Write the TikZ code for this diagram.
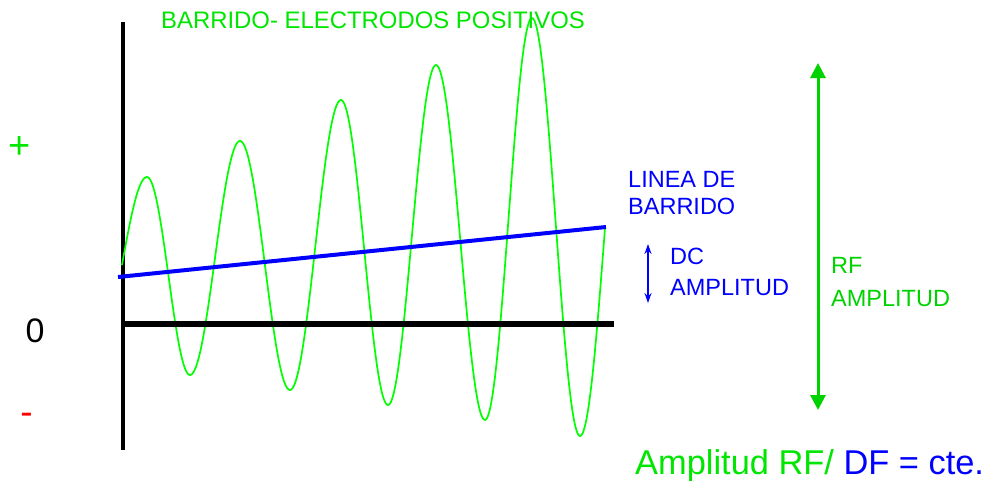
\documentclass[tikz,border=0pt]{standalone}
\usepackage{fontspec}
\setmainfont{Liberation Sans}
\usetikzlibrary{arrows.meta}
\definecolor{sinegreen}{RGB}{0,255,0}
\definecolor{txtgreen}{RGB}{0,230,0}
\definecolor{rfgreen}{RGB}{0,210,0}
\definecolor{myblue}{RGB}{0,0,255}
\definecolor{myred}{RGB}{255,0,0}
\newcommand\hwave[6]{\draw[sine] plot[domain=#5:#6,samples=40,variable=\t] ({#1+(#3-#1)*\t},{(#2+#4)/2+(#2-#4)/2*cos(180*\t)});}
\begin{document}
\begin{tikzpicture}[x=1pt,y=-1pt,
  sine/.style={draw=sinegreen,line width=1.7pt,line join=round,line cap=round},
  lbl/.style={inner sep=0pt,anchor=base west,font=\fontsize{23.5}{27}\selectfont},
  axisline/.style={draw=black,line width=4pt},
  zeroline/.style={draw=black,line width=6.5pt},
  sweep/.style={draw=myblue,line width=4pt},
  rfarrow/.style={draw=rfgreen,line width=3pt,{Triangle[length=15pt,width=15pt]}-{Triangle[length=15pt,width=15pt]}},
  dcarrow/.style={draw=myblue,line width=2pt,{Stealth[length=10pt,width=7pt]}-{Stealth[length=10pt,width=7pt]}}]
\useasboundingbox (0,0) rectangle (986,480);
% axes
\coordinate (ytop) at (123,22);
\coordinate (ybot) at (123,450);
\coordinate (z1) at (122,324);
\coordinate (z2) at (614,324);
\draw[axisline] (ytop) -- (ybot);
% sine wave
\hwave{98}{347}{147}{177}{0.49}{1}
\hwave{147}{177}{190}{375}{0}{1}
\hwave{190}{375}{240}{141}{0}{1}
\hwave{240}{141}{290}{390}{0}{1}
\hwave{290}{390}{341}{100}{0}{1}
\hwave{341}{100}{388}{405}{0}{1}
\hwave{388}{405}{436}{65}{0}{1}
\hwave{436}{65}{485}{420}{0}{1}
\hwave{485}{420}{532}{18}{0}{1}
\hwave{532}{18}{580}{436}{0}{1}
\hwave{580}{436}{630}{20}{0}{0.5}
\draw[zeroline] (z1) -- (z2);
% sweep line
\coordinate (b1) at (118,277);
\coordinate (b2) at (606,227);
\draw[sweep] (b1) -- (b2);
% arrows
\coordinate (dc1) at (648,244);
\coordinate (dc2) at (648,303);
\draw[dcarrow] (dc1) -- (dc2);
\coordinate (rf1) at (818,63);
\coordinate (rf2) at (818,410);
\draw[rfarrow] (rf1) -- (rf2);
% texts
\node[lbl,text=txtgreen,font=\fontsize{23.9}{27}\selectfont] (title) at (161,28) {BARRIDO- ELECTRODOS POSITIVOS};
\node[lbl,text=myblue] (lin1) at (628,187) {LINEA DE};
\node[lbl,text=myblue] (lin2) at (628,214) {BARRIDO};
\node[lbl,text=myblue] (dct1) at (670,264) {DC};
\node[lbl,text=myblue] (dct2) at (670,295) {AMPLITUD};
\node[lbl,text=rfgreen] (rft1) at (831,273) {RF};
\node[lbl,text=rfgreen] (rft2) at (831,306) {AMPLITUD};
\node[inner sep=0pt,anchor=base,font=\fontsize{38}{40}\selectfont,text=txtgreen] (plus) at (20,158) {+};
\node[inner sep=0pt,anchor=base,font=\fontsize{34}{36}\selectfont] (zero) at (35,342) {0};
\node[inner sep=0pt,anchor=base,font=\fontsize{37}{40}\selectfont,text=myred] (minus) at (26.5,424) {-};
\node[lbl,font=\fontsize{34.4}{36}\selectfont] (eq) at (635,474) {\textcolor{txtgreen}{Amplitud RF/} \textcolor{myblue}{DF = cte.}};
\end{tikzpicture}
\end{document}
